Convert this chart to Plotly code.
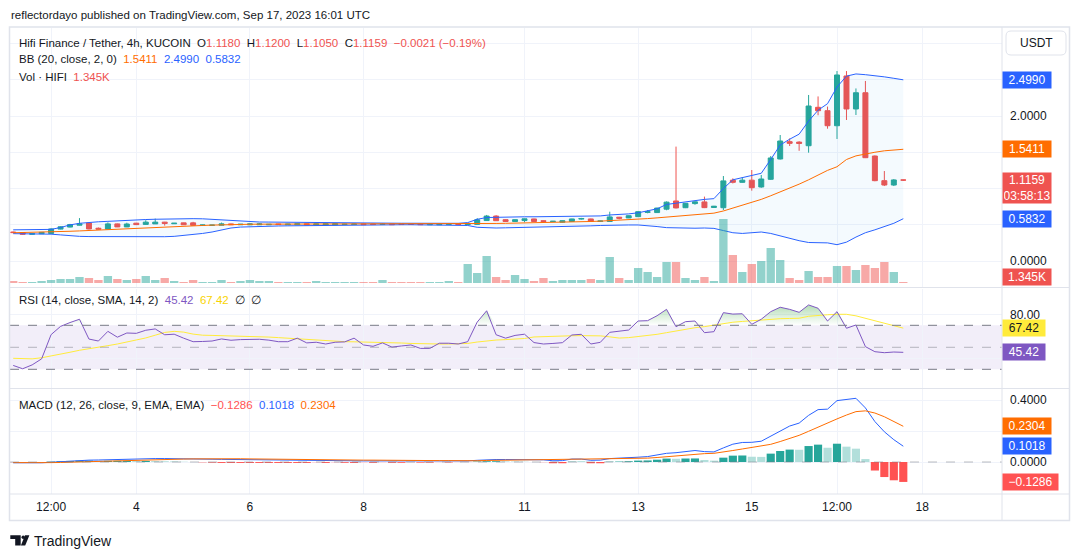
import plotly.graph_objects as go

W, H = 1080, 557
FONT = "Liberation Sans, Arial, sans-serif"
TXT = "#131722"
GRID = "#F0F3FA"
BORDER = "#E0E3EB"
UP, DOWN = "#26A69A", "#EF5350"


def px(x):
    return x / W


def py(y):
    return 1 - y / H


# ---------------- data ----------------
idx = list(range(95))
opens = [0.400, 0.392, 0.368, 0.376, 0.380, 0.440, 0.468, 0.494, 0.524, 0.452,
         0.440, 0.512, 0.470, 0.522, 0.505, 0.512, 0.536, 0.514, 0.526, 0.526,
         0.490, 0.492, 0.494, 0.512, 0.500, 0.499, 0.500, 0.500, 0.511, 0.500,
         0.500, 0.514, 0.498, 0.496, 0.498, 0.503, 0.504, 0.512, 0.510, 0.503,
         0.510, 0.510, 0.506, 0.510, 0.500, 0.500, 0.504, 0.508, 0.502, 0.505,
         0.558, 0.620, 0.570, 0.545, 0.558, 0.580, 0.556, 0.544, 0.535, 0.545,
         0.578, 0.580, 0.545, 0.545, 0.604, 0.594, 0.612, 0.670, 0.668, 0.715,
         0.828, 0.735, 0.792, 0.815, 0.738, 0.735, 1.115, 1.085, 1.115, 1.021,
         1.127, 1.407, 1.646, 1.640, 1.590, 2.120, 2.073, 1.866, 2.552, 2.097,
         2.321, 1.448, 1.108, 1.048, 1.118]
highs = [0.405, 0.396, 0.382, 0.400, 0.452, 0.480, 0.512, 0.592, 0.528, 0.462,
         0.532, 0.516, 0.528, 0.526, 0.562, 0.585, 0.540, 0.524, 0.528, 0.540,
         0.500, 0.498, 0.530, 0.515, 0.510, 0.514, 0.522, 0.508, 0.513, 0.512,
         0.516, 0.516, 0.516, 0.516, 0.516, 0.512, 0.514, 0.514, 0.512, 0.520,
         0.512, 0.512, 0.508, 0.512, 0.510, 0.510, 0.510, 0.510, 0.515, 0.592,
         0.635, 0.632, 0.574, 0.572, 0.585, 0.584, 0.560, 0.552, 0.558, 0.583,
         0.595, 0.584, 0.556, 0.680, 0.608, 0.628, 0.690, 0.702, 0.735, 0.822,
         1.578, 0.800, 0.822, 0.888, 0.760, 1.172, 1.140, 1.154, 1.255, 1.186,
         1.448, 1.738, 1.690, 1.652, 2.290, 2.270, 2.130, 2.620, 2.620, 2.380,
         2.483, 1.455, 1.241, 1.130, 1.120]
lows = [0.385, 0.362, 0.366, 0.372, 0.376, 0.436, 0.464, 0.490, 0.436, 0.436,
        0.438, 0.468, 0.468, 0.498, 0.503, 0.510, 0.488, 0.512, 0.498, 0.488,
        0.488, 0.490, 0.492, 0.498, 0.498, 0.497, 0.498, 0.498, 0.500, 0.498,
        0.498, 0.498, 0.496, 0.494, 0.496, 0.500, 0.502, 0.500, 0.500, 0.501,
        0.500, 0.500, 0.502, 0.500, 0.498, 0.498, 0.502, 0.502, 0.500, 0.500,
        0.552, 0.552, 0.540, 0.540, 0.535, 0.542, 0.540, 0.540, 0.530, 0.543,
        0.570, 0.542, 0.542, 0.540, 0.575, 0.592, 0.606, 0.658, 0.664, 0.700,
        0.725, 0.730, 0.776, 0.730, 0.734, 0.703, 1.070, 1.080, 0.970, 1.010,
        1.118, 1.400, 1.586, 1.520, 1.494, 2.010, 1.825, 1.683, 1.945, 2.014,
        1.420, 1.100, 1.034, 1.034, 1.105]
closes = [0.392, 0.368, 0.378, 0.395, 0.442, 0.472, 0.502, 0.512, 0.442, 0.440,
          0.512, 0.470, 0.510, 0.502, 0.536, 0.536, 0.518, 0.521, 0.500, 0.492,
          0.497, 0.495, 0.512, 0.501, 0.507, 0.511, 0.511, 0.506, 0.503, 0.509,
          0.514, 0.500, 0.512, 0.514, 0.515, 0.508, 0.510, 0.502, 0.503, 0.508,
          0.502, 0.503, 0.504, 0.502, 0.508, 0.508, 0.507, 0.504, 0.510, 0.568,
          0.620, 0.556, 0.545, 0.570, 0.582, 0.545, 0.545, 0.548, 0.555, 0.580,
          0.586, 0.545, 0.552, 0.608, 0.590, 0.625, 0.680, 0.680, 0.730, 0.812,
          0.732, 0.796, 0.816, 0.736, 0.756, 1.105, 1.085, 1.115, 1.011, 1.131,
          1.421, 1.655, 1.623, 1.622, 2.138, 2.073, 1.866, 2.566, 2.097, 2.321,
          1.425, 1.108, 1.048, 1.118, 1.1159]
volumes_k = [2.7, 1.4, 1.4, 2.7, 4.1, 5.4, 5.4, 8.1, 6.8, 4.1,
             9.5, 5.4, 4.1, 5.4, 9.5, 4.1, 6.8, 2.7, 1.4, 4.1,
             1.4, 1.4, 4.1, 1.4, 2.7, 4.1, 2.7, 2.7, 1.4, 1.4,
             1.4, 1.4, 2.7, 1.4, 1.4, 1.4, 1.4, 1.4, 1.4, 4.1,
             1.4, 1.4, 1.4, 1.4, 1.4, 1.4, 2.7, 1.4, 25.7, 13.5,
             36.5, 8.1, 4.1, 10.8, 5.4, 2.7, 6.8, 2.7, 4.1, 4.1,
             4.1, 5.4, 4.1, 35.1, 6.8, 4.1, 20.3, 14.9, 8.1, 28.4,
             28.4, 6.8, 4.1, 8.1, 2.7, 86.4, 37.8, 14.9, 25.7, 29.7,
             47.3, 31.1, 6.8, 4.1, 16.2, 8.1, 8.1, 23.0, 23.0, 17.6,
             24.3, 20.3, 28.4, 14.9, 1.345]
bb_upper = [0.430, 0.430, 0.430, 0.431, 0.436, 0.462, 0.498, 0.520, 0.535, 0.541,
            0.547, 0.555, 0.562, 0.568, 0.572, 0.576, 0.580, 0.583, 0.584, 0.584,
            0.582, 0.575, 0.562, 0.551, 0.544, 0.540, 0.538, 0.537, 0.535, 0.533,
            0.532, 0.531, 0.530, 0.530, 0.528, 0.526, 0.525, 0.524, 0.523, 0.522,
            0.522, 0.521, 0.520, 0.520, 0.520, 0.520, 0.520, 0.520, 0.530, 0.575,
            0.600, 0.605, 0.605, 0.607, 0.610, 0.610, 0.612, 0.612, 0.615, 0.616,
            0.618, 0.620, 0.622, 0.635, 0.640, 0.650, 0.665, 0.690, 0.720, 0.780,
            0.800, 0.815, 0.830, 0.850, 0.860, 1.000, 1.120, 1.150, 1.180, 1.210,
            1.400, 1.600, 1.680, 1.750, 1.930, 2.080, 2.170, 2.400, 2.550, 2.580,
            2.570, 2.560, 2.540, 2.520, 2.499]
bb_basis = [0.390, 0.392, 0.395, 0.397, 0.400, 0.405, 0.410, 0.415, 0.420, 0.425,
            0.430, 0.437, 0.443, 0.450, 0.455, 0.462, 0.468, 0.475, 0.480, 0.485,
            0.490, 0.495, 0.500, 0.503, 0.505, 0.507, 0.508, 0.508, 0.508, 0.509,
            0.509, 0.509, 0.509, 0.510, 0.510, 0.510, 0.510, 0.510, 0.510, 0.510,
            0.510, 0.510, 0.510, 0.510, 0.510, 0.510, 0.510, 0.510, 0.510, 0.513,
            0.516, 0.518, 0.520, 0.522, 0.524, 0.526, 0.528, 0.530, 0.532, 0.535,
            0.540, 0.545, 0.550, 0.555, 0.560, 0.567, 0.575, 0.585, 0.595, 0.605,
            0.620, 0.630, 0.640, 0.650, 0.660, 0.690, 0.730, 0.760, 0.800, 0.850,
            0.900, 0.950, 1.000, 1.060, 1.120, 1.190, 1.250, 1.300, 1.400, 1.450,
            1.480, 1.500, 1.520, 1.530, 1.5411]
bb_lower = [0.377, 0.377, 0.376, 0.375, 0.370, 0.360, 0.345, 0.340, 0.337, 0.336,
            0.335, 0.335, 0.335, 0.335, 0.335, 0.335, 0.335, 0.340, 0.350, 0.360,
            0.380, 0.400, 0.430, 0.455, 0.468, 0.474, 0.478, 0.481, 0.483, 0.485,
            0.487, 0.489, 0.490, 0.492, 0.494, 0.495, 0.496, 0.497, 0.498, 0.498,
            0.499, 0.500, 0.500, 0.500, 0.500, 0.500, 0.500, 0.500, 0.490, 0.465,
            0.455, 0.455, 0.458, 0.460, 0.465, 0.468, 0.470, 0.472, 0.475, 0.478,
            0.480, 0.485, 0.490, 0.495, 0.497, 0.497, 0.497, 0.490, 0.475, 0.460,
            0.455, 0.452, 0.452, 0.455, 0.450, 0.420, 0.390, 0.380, 0.385, 0.400,
            0.380, 0.345, 0.310, 0.280, 0.255, 0.255, 0.250, 0.225, 0.260, 0.330,
            0.390, 0.430, 0.470, 0.520, 0.5832]
rsi = [33.5, 30.5, 34.0, 39.5, 61.5, 69.0, 72.5, 75.5, 57.5, 55.7,
       64.5, 59.2, 63.0, 62.7, 65.5, 66.7, 61.4, 61.9, 58.3, 55.1,
       55.3, 55.7, 57.6, 56.4, 57.0, 57.3, 57.3, 56.5, 55.1, 55.1,
       58.3, 54.0, 54.6, 53.0, 54.6, 54.9, 58.3, 52.1, 50.9, 54.0,
       50.2, 51.2, 52.1, 49.0, 49.0, 53.7, 53.7, 53.0, 55.1, 72.9,
       83.2, 61.4, 58.3, 60.8, 61.9, 54.3, 53.0, 53.5, 54.2, 61.2,
       61.8, 53.0, 54.5, 63.6, 64.8, 65.7, 73.9, 74.2, 78.7, 84.5,
       68.7, 73.3, 73.9, 63.3, 64.2, 81.5, 80.2, 80.5, 70.9, 75.5,
       82.4, 86.4, 84.5, 81.8, 88.5, 85.5, 73.9, 82.4, 67.3, 70.3,
       50.6, 46.0, 45.1, 45.7, 45.42]
rsi_ma = [40.0, 39.8, 39.5, 40.5, 42.0, 43.5, 45.5, 47.3, 48.5, 50.0,
          51.5, 53.0, 54.8, 56.3, 58.5, 61.0, 63.5, 64.5, 63.8, 62.0,
          61.0, 60.8, 60.6, 60.5, 60.4, 60.1, 59.8, 59.3, 58.8, 58.2,
          57.6, 57.0, 56.3, 55.9, 55.5, 55.1, 55.0, 54.9, 54.7, 54.5,
          54.2, 53.9, 53.5, 53.2, 53.0, 53.0, 53.0, 53.1, 53.5, 54.8,
          56.0, 56.6, 57.0, 57.4, 58.0, 59.4, 59.8, 60.1, 60.3, 60.5,
          60.6, 60.5, 60.4, 59.5, 58.4, 58.8, 59.6, 60.5, 61.8, 63.3,
          64.8, 66.8, 67.8, 68.8, 70.2, 71.8, 72.8, 73.5, 74.1, 74.8,
          75.7, 76.0, 76.2, 76.4, 78.2, 79.1, 79.6, 80.0, 80.0, 78.6,
          76.3, 74.2, 72.2, 69.9, 67.42]
macd = [-0.005, -0.006, -0.006, -0.005, -0.002, 0.002, 0.006, 0.010, 0.012, 0.013,
        0.015, 0.017, 0.019, 0.020, 0.021, 0.022, 0.022, 0.022, 0.021, 0.020,
        0.019, 0.018, 0.017, 0.016, 0.015, 0.014, 0.013, 0.012, 0.011, 0.010,
        0.010, 0.009, 0.009, 0.008, 0.008, 0.008, 0.007, 0.007, 0.007, 0.007,
        0.006, 0.006, 0.006, 0.006, 0.006, 0.006, 0.006, 0.006, 0.007, 0.011,
        0.015, 0.016, 0.016, 0.016, 0.016, 0.014, 0.014, 0.008, 0.009, 0.019,
        0.019, 0.011, 0.012, 0.022, 0.024, 0.027, 0.031, 0.035, 0.044, 0.056,
        0.060, 0.067, 0.074, 0.067, 0.065, 0.091, 0.115, 0.126, 0.127, 0.134,
        0.168, 0.203, 0.232, 0.251, 0.301, 0.338, 0.341, 0.396, 0.402, 0.411,
        0.349, 0.261, 0.195, 0.144, 0.1018]
signal = [-0.004, -0.005, -0.005, -0.005, -0.004, -0.003, -0.001, 0.001, 0.003, 0.005,
          0.007, 0.009, 0.011, 0.013, 0.014, 0.016, 0.017, 0.018, 0.019, 0.020,
          0.021, 0.022, 0.023, 0.022, 0.021, 0.020, 0.019, 0.018, 0.017, 0.016,
          0.016, 0.015, 0.014, 0.014, 0.013, 0.013, 0.013, 0.012, 0.012, 0.011,
          0.011, 0.011, 0.010, 0.010, 0.010, 0.009, 0.009, 0.008, 0.008, 0.008,
          0.010, 0.011, 0.012, 0.013, 0.014, 0.014, 0.015, 0.016, 0.017, 0.017,
          0.017, 0.019, 0.020, 0.020, 0.021, 0.022, 0.022, 0.025, 0.029, 0.034,
          0.039, 0.0445, 0.051, 0.054, 0.056, 0.063, 0.074, 0.084, 0.093, 0.101,
          0.114, 0.132, 0.152, 0.172, 0.198, 0.226, 0.249, 0.278, 0.303, 0.325,
          0.330, 0.316, 0.292, 0.262, 0.2304]
hist = [-0.001, -0.001, -0.001, 0.000, 0.002, 0.005, 0.007, 0.009, 0.009, 0.008,
        0.008, 0.008, 0.008, 0.007, 0.007, 0.006, 0.005, 0.004, 0.002, 0.000,
        -0.002, -0.004, -0.006, -0.006, -0.006, -0.006, -0.006, -0.006, -0.006, -0.006,
        -0.006, -0.006, -0.005, -0.006, -0.005, -0.005, -0.006, -0.005, -0.005, -0.004,
        -0.005, -0.005, -0.004, -0.004, -0.004, -0.003, -0.003, -0.002, -0.001, 0.003,
        0.005, 0.005, 0.004, 0.003, 0.002, 0.000, -0.001, -0.008, -0.008, 0.002,
        0.002, -0.008, -0.008, 0.002, 0.003, 0.005, 0.009, 0.010, 0.015, 0.022,
        0.021, 0.0225, 0.023, 0.013, 0.009, 0.028, 0.041, 0.042, 0.034, 0.033,
        0.054, 0.071, 0.080, 0.079, 0.103, 0.112, 0.092, 0.118, 0.099, 0.086,
        0.019, -0.055, -0.097, -0.118, -0.1286]
tick_idx = [4, 13, 25, 37, 54, 66, 78, 87, 96]
tick_text = ["12:00", "4", "6", "8", "11", "13", "15", "12:00", "18"]

# ---------------- geometry (pixel layout of the panes) ----------------
X_L, X_R = 10, 1002
P_T, P_B = 27.5, 287.5
R_T, R_B = 288.5, 388.5
M_T, M_B = 389, 494


def xi(x):  # pixel -> candle index
    return (x - 13.2) / 9.469


def pp(y):  # pixel -> price
    return (261 - y) / 72.5


def pr(y):  # pixel -> rsi
    return 50 + (347.3 - y) / 1.1


def pm(y):  # pixel -> macd
    return (462 - y) / 155


X_RANGE = [xi(X_L), xi(X_R)]

vol_colors = ["rgba(38,166,154,0.5)" if c >= o else "rgba(239,83,80,0.5)" for o, c in zip(opens, closes)]
hist_colors = []
for k, h in enumerate(hist):
    prev = hist[k - 1] if k > 0 else h
    if h >= 0:
        hist_colors.append("#26A69A" if h >= prev else "#B2DFDB")
    else:
        hist_colors.append("#FF5252" if h <= prev else "#FFCDD2")

fig = go.Figure()

# price pane
fig.add_trace(go.Bar(x=idx, y=volumes_k, marker=dict(color=vol_colors, line=dict(width=0)),
                     width=0.88, xaxis="x", yaxis="y2", hoverinfo="skip"))
fig.add_trace(go.Scatter(x=idx, y=bb_lower, mode="lines", line=dict(color="#2962FF", width=1),
                         xaxis="x", yaxis="y", hoverinfo="skip"))
fig.add_trace(go.Scatter(x=idx, y=bb_upper, mode="lines", line=dict(color="#2962FF", width=1),
                         fill="tonexty", fillcolor="rgba(33,150,243,0.05)",
                         xaxis="x", yaxis="y", hoverinfo="skip"))
fig.add_trace(go.Scatter(x=idx, y=bb_basis, mode="lines", line=dict(color="#FF6D00", width=1),
                         xaxis="x", yaxis="y", hoverinfo="skip"))
fig.add_trace(go.Candlestick(x=idx, open=opens, high=highs, low=lows, close=closes,
                             increasing=dict(line=dict(color=UP, width=1), fillcolor=UP),
                             decreasing=dict(line=dict(color=DOWN, width=1), fillcolor=DOWN),
                             whiskerwidth=0, xaxis="x", yaxis="y", hoverinfo="skip"))

# RSI pane
rsi_top = [max(r, 70) for r in rsi]
fig.add_trace(go.Scatter(x=idx, y=[70] * len(idx), mode="lines", line=dict(width=0),
                         xaxis="x2", yaxis="y3", hoverinfo="skip"))
fig.add_trace(go.Scatter(x=idx, y=rsi_top, mode="lines", line=dict(width=0), fill="tonexty",
                         fillgradient=dict(type="vertical",
                                           colorscale=[[0, "rgba(76,175,80,0.0)"], [1, "rgba(76,175,80,0.45)"]],
                                           start=70, stop=90),
                         xaxis="x2", yaxis="y3", hoverinfo="skip"))
fig.add_trace(go.Scatter(x=idx, y=rsi_ma, mode="lines", line=dict(color="#FFEB3B", width=1),
                         xaxis="x2", yaxis="y3", hoverinfo="skip"))
fig.add_trace(go.Scatter(x=idx, y=rsi, mode="lines", line=dict(color="#7E57C2", width=1),
                         xaxis="x2", yaxis="y3", hoverinfo="skip"))

# MACD pane
fig.add_trace(go.Bar(x=idx, y=hist, marker=dict(color=hist_colors, line=dict(width=0)), width=0.86,
                     xaxis="x3", yaxis="y4", hoverinfo="skip"))
fig.add_trace(go.Scatter(x=idx, y=macd, mode="lines", line=dict(color="#2962FF", width=1),
                         xaxis="x3", yaxis="y4", hoverinfo="skip"))
fig.add_trace(go.Scatter(x=idx, y=signal, mode="lines", line=dict(color="#FF6D00", width=1),
                         xaxis="x3", yaxis="y4", hoverinfo="skip"))

tickfont = dict(family=FONT, size=12, color=TXT)
xcommon = dict(range=X_RANGE, domain=[px(X_L), px(X_R)], tickvals=tick_idx, ticktext=tick_text,
               showgrid=True, gridcolor=GRID, gridwidth=1, zeroline=False, showline=False,
               ticks="", fixedrange=True, tickfont=tickfont)
ycommon = dict(side="right", showgrid=True, gridcolor=GRID, gridwidth=1, zeroline=False,
               showline=False, ticks="", fixedrange=True, tickfont=tickfont, ticklabelstandoff=7)

# labels hidden behind the coloured value boxes are left blank (gridlines kept)
layout = dict(
    width=W, height=H, margin=dict(l=0, r=0, t=0, b=0),
    paper_bgcolor="white", plot_bgcolor="rgba(0,0,0,0)",
    showlegend=False, barmode="overlay", boxgap=0.25,
    font=dict(family=FONT, size=12, color=TXT),
    xaxis=dict(xcommon, anchor="y", showticklabels=False, rangeslider=dict(visible=False)),
    xaxis2=dict(xcommon, anchor="y3", showticklabels=False, matches="x"),
    xaxis3=dict(xcommon, anchor="y4", showticklabels=True, matches="x", ticklabelstandoff=4),
    yaxis=dict(ycommon, domain=[py(P_B), py(P_T)], range=[pp(P_B), pp(P_T)], anchor="x",
               tickvals=[0, 0.5, 1.0, 1.5, 2.0, 2.5, 3.0],
               ticktext=["0.0000", "", "", "", "2.0000", "", ""]),
    yaxis2=dict(overlaying="y", range=[-(P_B - 283) * 1.35, (283 - P_T) * 1.35], visible=False,
                fixedrange=True),
    yaxis3=dict(ycommon, domain=[py(R_B), py(R_T)], range=[pr(R_B), pr(R_T)], anchor="x2",
                tickvals=[40, 80], ticktext=["", "80.00"]),
    yaxis4=dict(ycommon, domain=[py(M_B), py(M_T)], range=[pm(M_B), pm(M_T)], anchor="x3",
                tickvals=[0, 0.2, 0.4], ticktext=["0.0000", "", "0.4000"]),
)
fig.update_layout(**layout)

shapes = []
# RSI band & levels
shapes.append(dict(type="rect", xref="x2 domain", yref="y3", x0=0, x1=1, y0=30, y1=70,
                   fillcolor="rgba(126,87,194,0.1)", line=dict(width=0), layer="below"))
for lvl, col in [(70, "#787B86"), (30, "#787B86"), (50, "rgba(120,123,134,0.5)")]:
    shapes.append(dict(type="line", xref="x2 domain", yref="y3", x0=0, x1=1, y0=lvl, y1=lvl,
                       line=dict(color=col, width=1, dash="dash")))
# MACD zero line
shapes.append(dict(type="line", xref="x3 domain", yref="y4", x0=0, x1=1, y0=0, y1=0,
                   line=dict(color="rgba(120,123,134,0.5)", width=1, dash="dash")))
# frame, separators, axis lines
shapes.append(dict(type="rect", xref="paper", yref="paper", x0=px(9.5), x1=px(1069.5),
                   y0=py(520.5), y1=py(27), line=dict(color=BORDER, width=1.5)))
for yy in [287.5, 388.5, 494]:
    shapes.append(dict(type="line", xref="paper", yref="paper", x0=px(9.5), x1=px(1069.5),
                       y0=py(yy), y1=py(yy), line=dict(color=BORDER, width=1)))
shapes.append(dict(type="line", xref="paper", yref="paper", x0=px(1002), x1=px(1002),
                   y0=py(520.5), y1=py(27), line=dict(color=BORDER, width=1)))


# USDT button (rounded rect)
def rrect(x0, y0, x1, y1, r):
    X0, X1 = px(x0), px(x1)
    rx, ry = r / W, r / H
    Y0, Y1 = py(y0), py(y1)
    return (f"M {X0+rx},{Y0} L {X1-rx},{Y0} Q {X1},{Y0} {X1},{Y0-ry} L {X1},{Y1+ry} "
            f"Q {X1},{Y1} {X1-rx},{Y1} L {X0+rx},{Y1} Q {X0},{Y1} {X0},{Y1+ry} L {X0},{Y0-ry} "
            f"Q {X0},{Y0} {X0+rx},{Y0} Z")


shapes.append(dict(type="path", xref="paper", yref="paper", path=rrect(1006, 31, 1066, 55, 5),
                   fillcolor="white", line=dict(color=BORDER, width=1), layer="above"))


# TradingView logo
def poly(pts):
    return "M " + " L ".join(f"{px(a)},{py(b)}" for a, b in pts) + " Z"


LOGO_Y = -3.5
logo_col = "#131722"
shapes.append(dict(type="path", xref="paper", yref="paper",
                   path=poly([(10.3, 538.8 + LOGO_Y), (20.7, 538.8 + LOGO_Y), (20.7, 549 + LOGO_Y),
                              (15.2, 549 + LOGO_Y), (15.2, 542.4 + LOGO_Y), (10.3, 542.4 + LOGO_Y)]),
                   fillcolor=logo_col, line=dict(width=0)))
shapes.append(dict(type="circle", xref="paper", yref="paper", x0=px(21.5), x1=px(24.9),
                   y0=py(542.4 + LOGO_Y), y1=py(539.0 + LOGO_Y), fillcolor=logo_col, line=dict(width=0)))
shapes.append(dict(type="path", xref="paper", yref="paper",
                   path=poly([(25.0, 538.8 + LOGO_Y), (29.4, 538.8 + LOGO_Y), (25.2, 549 + LOGO_Y),
                              (20.9, 549 + LOGO_Y)]),
                   fillcolor=logo_col, line=dict(width=0)))
fig.update_layout(shapes=shapes)

NB = "\u00a0"
MINUS = "\u2212"


def span(t, c):
    return f"<span style='color:{c}'>{t}</span>"


R = "#EF5350"
ann = []
LEG = 11.5


def text_ann(t, x, y, size=LEG, color=TXT):
    ann.append(dict(text=t, x=px(x), y=py(y), xref="paper", yref="paper", xanchor="left",
                    yanchor="middle", showarrow=False, align="left",
                    font=dict(family=FONT, size=size, color=color)))


text_ann("reflectordayo published on TradingView.com, Sep 17, 2023 16:01 UTC", 9, 15)
text_ann("Hifi Finance / Tether, 4h, KUCOIN" + NB * 2 + "O" + span("1.1180", R) + NB * 2 + "H" + span("1.1200", R)
         + NB * 2 + "L" + span("1.1050", R) + NB * 2 + "C" + span("1.1159", R) + NB * 2
         + span(f"{MINUS}0.0021 ({MINUS}0.19%)", R), 17, 42.5)
text_ann("BB (20, close, 2, 0)" + NB * 2 + span("1.5411", "#FF6D00") + NB * 2 + span("2.4990", "#2962FF")
         + NB * 2 + span("0.5832", "#2962FF"), 17, 59.5)
text_ann("Vol \u00b7 HIFI" + NB * 2 + span("1.345K", R), 17, 76.5)
text_ann("RSI (14, close, SMA, 14, 2)" + NB * 2 + span("45.42", "#7E57C2") + NB * 2 + span("67.42", "#F9D400")
         + NB * 2 + "\u2205" + NB * 2 + "\u2205", 17, 299.5)
text_ann("MACD (12, 26, close, 9, EMA, EMA)" + NB * 2 + span(f"{MINUS}0.1286", "#FF5252") + NB * 2
         + span("0.1018", "#2962FF") + NB * 2 + span("0.2304", "#FF6D00"), 17, 404.5)
text_ann("TradingView", 32, 540.5, size=14)

ann.append(dict(text="USDT", x=px(1036), y=py(43), xref="paper", yref="paper", showarrow=False,
                xanchor="center", yanchor="middle", font=dict(family=FONT, size=12, color=TXT)))


def box(t, yval, yref, bg, fg="white", w=46, h=14, yanchor="middle", yshift=0):
    ann.append(dict(text=t, x=px(1002), xref="paper", xanchor="left", y=yval, yref=yref,
                    yanchor=yanchor, yshift=yshift, showarrow=False, bgcolor=bg, width=w, height=h,
                    borderpad=1, align="center", font=dict(family=FONT, size=12, color=fg)))


box("2.4990", 2.4990, "y", "#2962FF")
box("1.5411", 1.5411, "y", "#FF6D00")
box("1.1159<br>03:58:13", 1.1159, "y", "#EF5350", h=28, yanchor="top", yshift=8.4)
box("0.5832", 0.5832, "y", "#2962FF")
box("1.345K", py(276.7), "paper", "#EF5350")
box("67.42", 67.42, "y3", "#FFEB3B", fg=TXT, w=40)
box("45.42", 45.42, "y3", "#7E57C2", w=40)
box("0.2304", 0.2304, "y4", "#FF6D00")
box("0.1018", 0.1018, "y4", "#2962FF")
box(f"{MINUS}0.1286", -0.1286, "y4", "#FF5252", w=53)

fig.update_layout(annotations=ann)
fig.write_html("out.html", config={"displayModeBar": False, "staticPlot": True})
